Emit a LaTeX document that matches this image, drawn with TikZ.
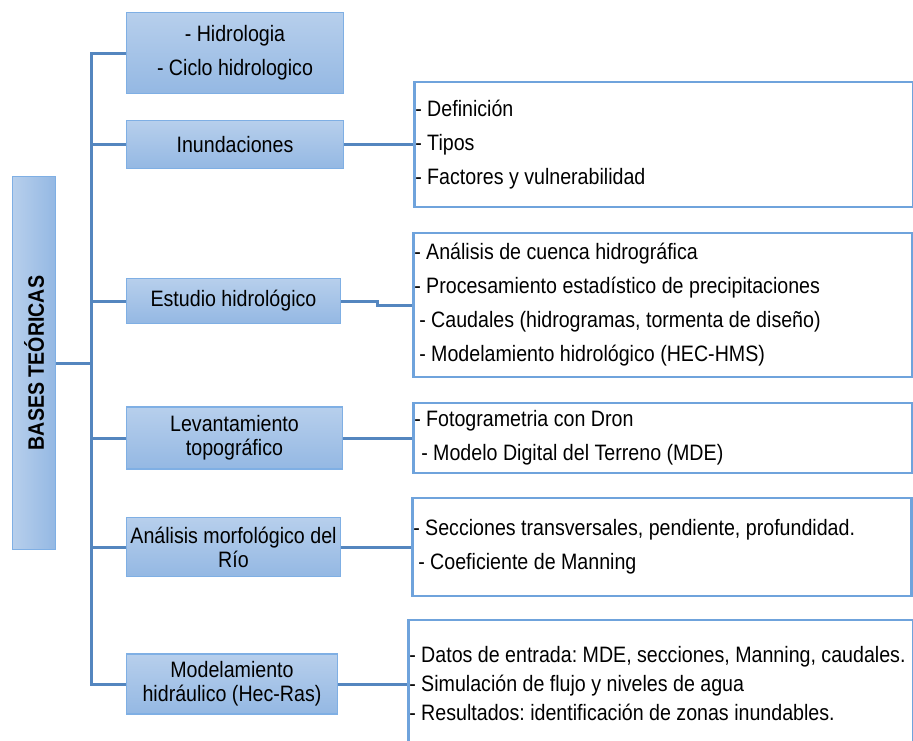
\documentclass[tikz,border=0pt]{standalone}
\usepackage{graphicx}
\usepackage{xcolor}
\usepackage{fontspec}
\setmainfont{Liberation Sans}[FakeStretch=0.88]
\usepackage{tikz}

\definecolor{temaarriba}{HTML}{B7CFEC}
\definecolor{temaabajo}{HTML}{94B8E3}
\definecolor{temaborde}{HTML}{7FAFE4}
\definecolor{detalleborde}{HTML}{6FA3DC}
\definecolor{ramaazul}{HTML}{5486BF}

\begin{document}
\begin{tikzpicture}
    [x=1pt, y=-1pt,
      font=\fontsize{22.3}{34}\selectfont,
      % Estilo para los temas
      tema/.style={rectangle, draw=temaborde, line width=1.5pt, top color=temaarriba, bottom color=temaabajo, align=center, inner sep=2pt},
      dos/.style={font=\fontsize{22.3}{24}\selectfont},
      % Estilo para los detalles
      detalle/.style={rectangle, draw=detalleborde, line width=2.5pt, fill=white, align=left, anchor=west, inner xsep=1pt, text width=497pt,
        execute at begin node={\spaceskip=0pt\xspaceskip=0pt\frenchspacing\hyphenpenalty=10000}},
      % Estilo para las lineas
      rama/.style={draw=ramaazul, line width=3pt}]
    \clip (0,0) rectangle (913,740);

    % Nodos
    \node[tema, minimum width=43, minimum height=373, left color=temaarriba, right color=temaabajo] (bases) at (34,363) {\rotatebox{90}{\bfseries BASES TEÓRICAS}};

    \node[tema, minimum width=217, minimum height=81] (hidro) at (235,53) {- Hidrologia\\- Ciclo hidrologico};
    \node[tema, minimum width=217, minimum height=48] (inund) at (235,144.5) {Inundaciones};
    \node[tema, minimum width=214, minimum height=45] (estudio) at (233.5,301) {Estudio hidrológico};
    \node[tema, dos, minimum width=216, minimum height=62] (levant) at (234.5,438) {Levantamiento\\topográfico};
    \node[tema, dos, minimum width=214, minimum height=59] (analisis) at (233.5,547) {Análisis morfológico del\\Río};
    \node[tema, dos, minimum width=211, minimum height=60] (modela) at (232,684) {Modelamiento\\hidráulico (Hec-Ras)};

    \node[detalle, minimum height=125] (r1) at (413,144.5) {- Definición\\- Tipos\\- Factores y vulnerabilidad};
    \node[detalle, minimum height=144] (r2) at (412,305) {- Análisis de cuenca hidrográfica\\- Procesamiento estadístico de precipitaciones\\\hspace*{5pt}- Caudales (hidrogramas, tormenta de diseño)\\\hspace*{5pt}- Modelamiento hidrológico (HEC-HMS)};
    \node[detalle, minimum height=70] (r3) at (412,438) {- Fotogrametria con Dron\\\hspace*{7pt}- Modelo Digital del Terreno (MDE)};
    \node[detalle, minimum height=98] (r4) at (411,547) {- Secciones transversales, pendiente, profundidad.\\\hspace*{5pt}- Coeficiente de Manning};
    \node[detalle, minimum height=128, text width=503pt, font=\fontsize{22.3}{29}\selectfont] (r5) at (407,684) {- Datos de entrada: MDE, secciones, Manning, caudales.\\- Simulación de flujo y niveles de agua\\- Resultados: identificación de zonas inundables.};

    % Lineas
    \coordinate (tronco) at (91,363);
    \draw[rama] (hidro.west) -| (tronco) |- (modela.west);
    \draw[rama] (bases.east) -- (tronco);
    \foreach \n in {inund,estudio,levant,analisis}
      \draw[rama] (\n.west) -- (\n.west -| tronco);

    \path[rama]
      (inund) edge (r1)
      (levant) edge (r3)
      (analisis) edge (r4)
      (modela) edge (r5);
    \draw[rama] (estudio.east) -- ++(36,0) |- (r2.west);

\end{tikzpicture}
\end{document}
